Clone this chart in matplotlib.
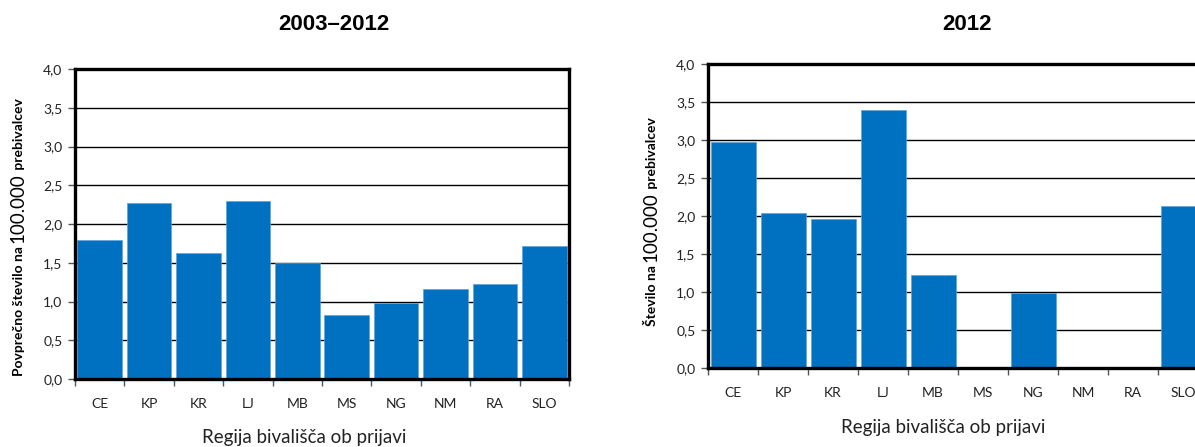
import matplotlib
matplotlib.use("Agg")
import matplotlib.pyplot as plt
import numpy as np

regions = ["CE", "KP", "KR", "LJ", "MB", "MS", "NG", "NM", "RA", "SLO"]
avg_2003_2012 = [1.79, 2.27, 1.63, 2.30, 1.50, 0.82, 0.98, 1.16, 1.22, 1.71]
rate_2012 = [2.97, 2.04, 1.96, 3.40, 1.23, 0.0, 0.99, 0.0, 0.0, 2.13]
yticks = [0.0, 0.5, 1.0, 1.5, 2.0, 2.5, 3.0, 3.5, 4.0]

BLUE = "#0070c0"
TXT = "#222222"
FONT = ["Lato", "DejaVu Sans"]

fig = plt.figure(figsize=(11.95, 4.47), dpi=100)


def bar_panel(rect, values):
    ax = fig.add_axes(rect)
    x = np.arange(len(values))
    ax.set_axisbelow(True)
    ax.bar(x, values, width=0.9, color=BLUE, edgecolor="#5fa3dd", linewidth=0.5, zorder=2)
    ax.set_xlim(-0.5, len(values) - 0.5)
    ax.set_ylim(0, 4)
    ax.set_yticks(yticks)
    ax.set_yticklabels([f"{v:.1f}".replace(".", ",") for v in yticks],
                       family=FONT, fontsize=10, color=TXT)
    ax.yaxis.grid(True, color="black", linewidth=1.0)
    # category labels sit between the boundary ticks
    ax.set_xticks(x)
    ax.set_xticklabels(regions, family=FONT, fontsize=10, color=TXT)
    ax.tick_params(axis="x", length=0, pad=14)
    ax.set_xticks(np.arange(len(values) + 1) - 0.5, minor=True)
    ax.tick_params(axis="x", which="minor", length=5, color="#555555", width=1)
    ax.tick_params(axis="y", length=5, color="#555555", width=1, pad=4)
    for s in ax.spines.values():
        s.set_linewidth(2.4)
        s.set_color("black")
    return ax


ax1 = bar_panel([75 / 1195, 68 / 447, 494 / 1195, 310 / 447], avg_2003_2012)
ax2 = bar_panel([708 / 1195, 79 / 447, 500 / 1195, 304 / 447], rate_2012)

fig.text(334 / 1195, 1 - 25 / 447, "2003–2012", ha="center", va="center",
         family="Liberation Sans", weight="bold", fontsize=16)
fig.text(967 / 1195, 1 - 25 / 447, "2012", ha="center", va="center",
         family="Liberation Sans", weight="bold", fontsize=16)

fig.text(304 / 1195, 1 - 437 / 447, "Regija bivališča ob prijavi", ha="center",
         va="center", family=FONT, fontsize=13.5, color=TXT)
fig.text(943 / 1195, 1 - 428 / 447, "Regija bivališča ob prijavi", ha="center",
         va="center", family=FONT, fontsize=13.5, color=TXT)


def mixed_ylabel(x_px, y_px, parts):
    # rotated label built from pieces of different size/weight, stacked upward
    fig.canvas.draw()
    r = fig.canvas.get_renderer()
    y = y_px
    for text, size, weight in parts:
        t = fig.text(x_px / 1195, 1 - y / 447, text, rotation=90,
                     rotation_mode="anchor", ha="left", va="baseline",
                     family=FONT, fontsize=size, weight=weight, color="black")
        bb = t.get_window_extent(renderer=r)
        y -= bb.height


mixed_ylabel(23, 376, [("Povprečno število na ", 10, "bold"),
                       ("100.000", 13.5, "normal"),
                       (" prebivalcev", 10, "bold")])
mixed_ylabel(656, 326, [("Število na ", 10, "bold"),
                        ("100.000", 13.5, "normal"),
                        (" prebivalcev", 10, "bold")])

fig.savefig("out.png", dpi=100)
